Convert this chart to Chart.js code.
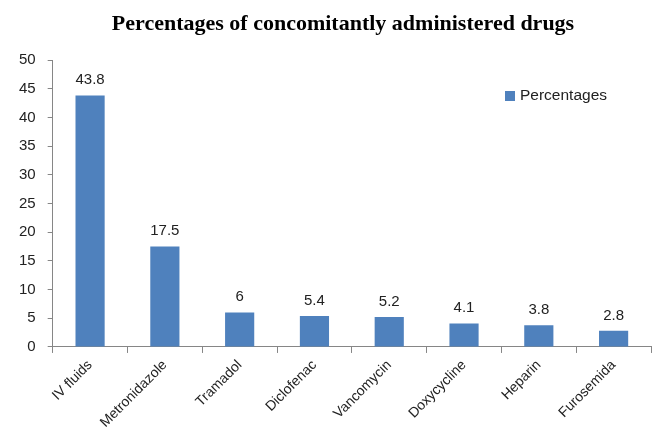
<!DOCTYPE html>
<html>
<head>
<meta charset="utf-8">
<script src="https://cdn.jsdelivr.net/npm/chart.js@4"></script>
<style>
  html, body { margin: 0; padding: 0; background: #fff; }
  #wrap { width: 654px; height: 448px; }
</style>
</head>
<body>
<div id="wrap"><canvas id="barChart"></canvas></div>
<script>
const drugs = ["IV fluids", "Metronidazole", "Tramadol", "Diclofenac", "Vancomycin", "Doxycycline", "Heparin", "Furosemida"];
const percentages = [43.8, 17.5, 6, 5.4, 5.2, 4.1, 3.8, 2.8];
const yTicks = [0, 5, 10, 15, 20, 25, 30, 35, 40, 45, 50];

const chartTitle = "Percentages of concomitantly administered drugs";
const barColor = "#4F81BD";

// title, a bit right of the canvas centre like the original
const titlePlugin = {
	id: "titlePlugin",
	afterDraw(chart) {
		const ctx = chart.ctx;
		ctx.save();
		ctx.font = "bold 22px 'Liberation Serif', serif";
		ctx.fillStyle = "#000";
		ctx.textAlign = "center";
		ctx.textBaseline = "alphabetic";
		ctx.fillText(chartTitle, chart.width / 2 + 16, 30);
		ctx.restore();
	}
};

// value labels above each bar
const valueLabels = {
	id: "valueLabels",
	afterDatasetsDraw(chart) {
		const ctx = chart.ctx;
		const meta = chart.getDatasetMeta(0);
		ctx.save();
		ctx.font = "15px 'Liberation Sans', sans-serif";
		ctx.fillStyle = "#222";
		ctx.textAlign = "center";
		ctx.textBaseline = "bottom";
		meta.data.forEach((bar, i) => {
			ctx.fillText(String(percentages[i]), bar.x, bar.y - 8);
		});
		ctx.restore();
	}
};

// legend drawn inside the plot, right side
const insideLegend = {
	id: "insideLegend",
	afterDraw(chart) {
		const ctx = chart.ctx;
		const x = chart.chartArea.right - 146;
		const y = chart.chartArea.top + 36;
		ctx.save();
		ctx.fillStyle = barColor;
		ctx.fillRect(x, y - 5, 10, 10);
		ctx.font = "15.5px 'Liberation Sans', sans-serif";
		ctx.fillStyle = "#222";
		ctx.textBaseline = "middle";
		ctx.fillText(chart.data.datasets[0].label, x + 15, y);
		ctx.restore();
	}
};

new Chart(document.getElementById("barChart").getContext("2d"), {
	type: "bar",
	data: {
		labels: drugs,
		datasets: [{
			label: "Percentages",
			data: percentages,
			backgroundColor: barColor,
			borderWidth: 0,
			barPercentage: 0.39,
			categoryPercentage: 1.0
		}]
	},
	options: {
		responsive: true,
		maintainAspectRatio: false,
		animation: false,
		layout: { padding: { left: 7, right: 3, top: 60, bottom: 13 } },
		plugins: {
			legend: { display: false },
			tooltip: { enabled: false },
			title: { display: false }
		},
		scales: {
			x: {
				grid: { display: true, drawOnChartArea: false, color: "#868686", tickLength: 6 },
				border: { color: "#868686", width: 1 },
				ticks: {
					color: "#222",
					maxRotation: 45,
					minRotation: 45,
					padding: 4,
					font: { family: "'Liberation Sans', sans-serif", size: 14 }
				}
			},
			y: {
				min: 0,
				max: 50,
				afterBuildTicks: axis => { axis.ticks = yTicks.map(v => ({ value: v })); },
				grid: { display: true, drawOnChartArea: false, color: "#868686", tickLength: 5 },
				border: { color: "#868686", width: 1 },
				ticks: {
					color: "#222",
					padding: 12,
					font: { family: "'Liberation Sans', sans-serif", size: 15 }
				}
			}
		}
	},
	plugins: [valueLabels, insideLegend, titlePlugin]
});
</script>
</body>
</html>
